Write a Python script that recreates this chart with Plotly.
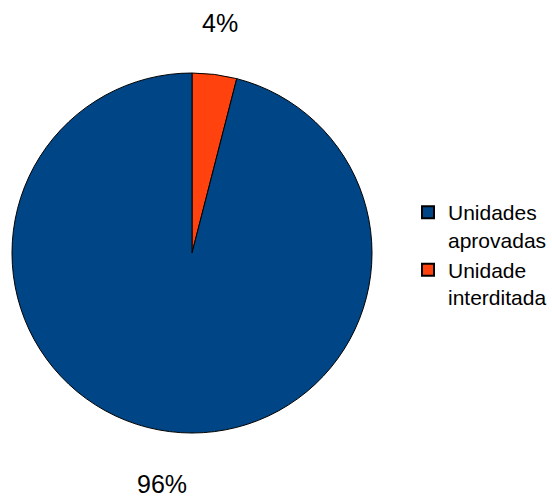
import plotly.graph_objects as go

labels = ["Unidades<br>aprovadas", "Unidade<br>interditada"]
values = [96, 4]
colors = ["#004586", "#FF420E"]

total = sum(values)
pct = [f"{round(v / total * 100)}%" for v in values]

fig = go.Figure(go.Pie(
    labels=labels[::-1], values=values[::-1], sort=False, direction="clockwise",
    rotation=0, marker=dict(colors=colors[::-1], line=dict(color="black", width=1)),
    textinfo="none", hoverinfo="label+percent",
    domain=dict(x=[12/552, 372/552], y=[64/497, 424/497]),
))

fig.add_annotation(x=220/552, y=1-23/497, xref="paper", yref="paper", text=pct[1],
                   showarrow=False, font=dict(size=25, color="black"),
                   xanchor="center", yanchor="middle")
fig.add_annotation(x=162/552, y=1-484/497, xref="paper", yref="paper", text=pct[0],
                   showarrow=False, font=dict(size=25, color="black"),
                   xanchor="center", yanchor="middle")

fig.update_layout(
    width=552, height=497, margin=dict(l=0, r=0, t=0, b=0),
    paper_bgcolor="white", plot_bgcolor="white",
    font=dict(family="Liberation Sans, Arial, sans-serif", size=21, color="black"),
    legend=dict(x=408/552, y=1-192/497, xanchor="left", yanchor="top",
                valign="top", itemsizing="constant", tracegroupgap=0,
                traceorder="reversed", font=dict(size=21)),
)

fig.write_html("out.html")
